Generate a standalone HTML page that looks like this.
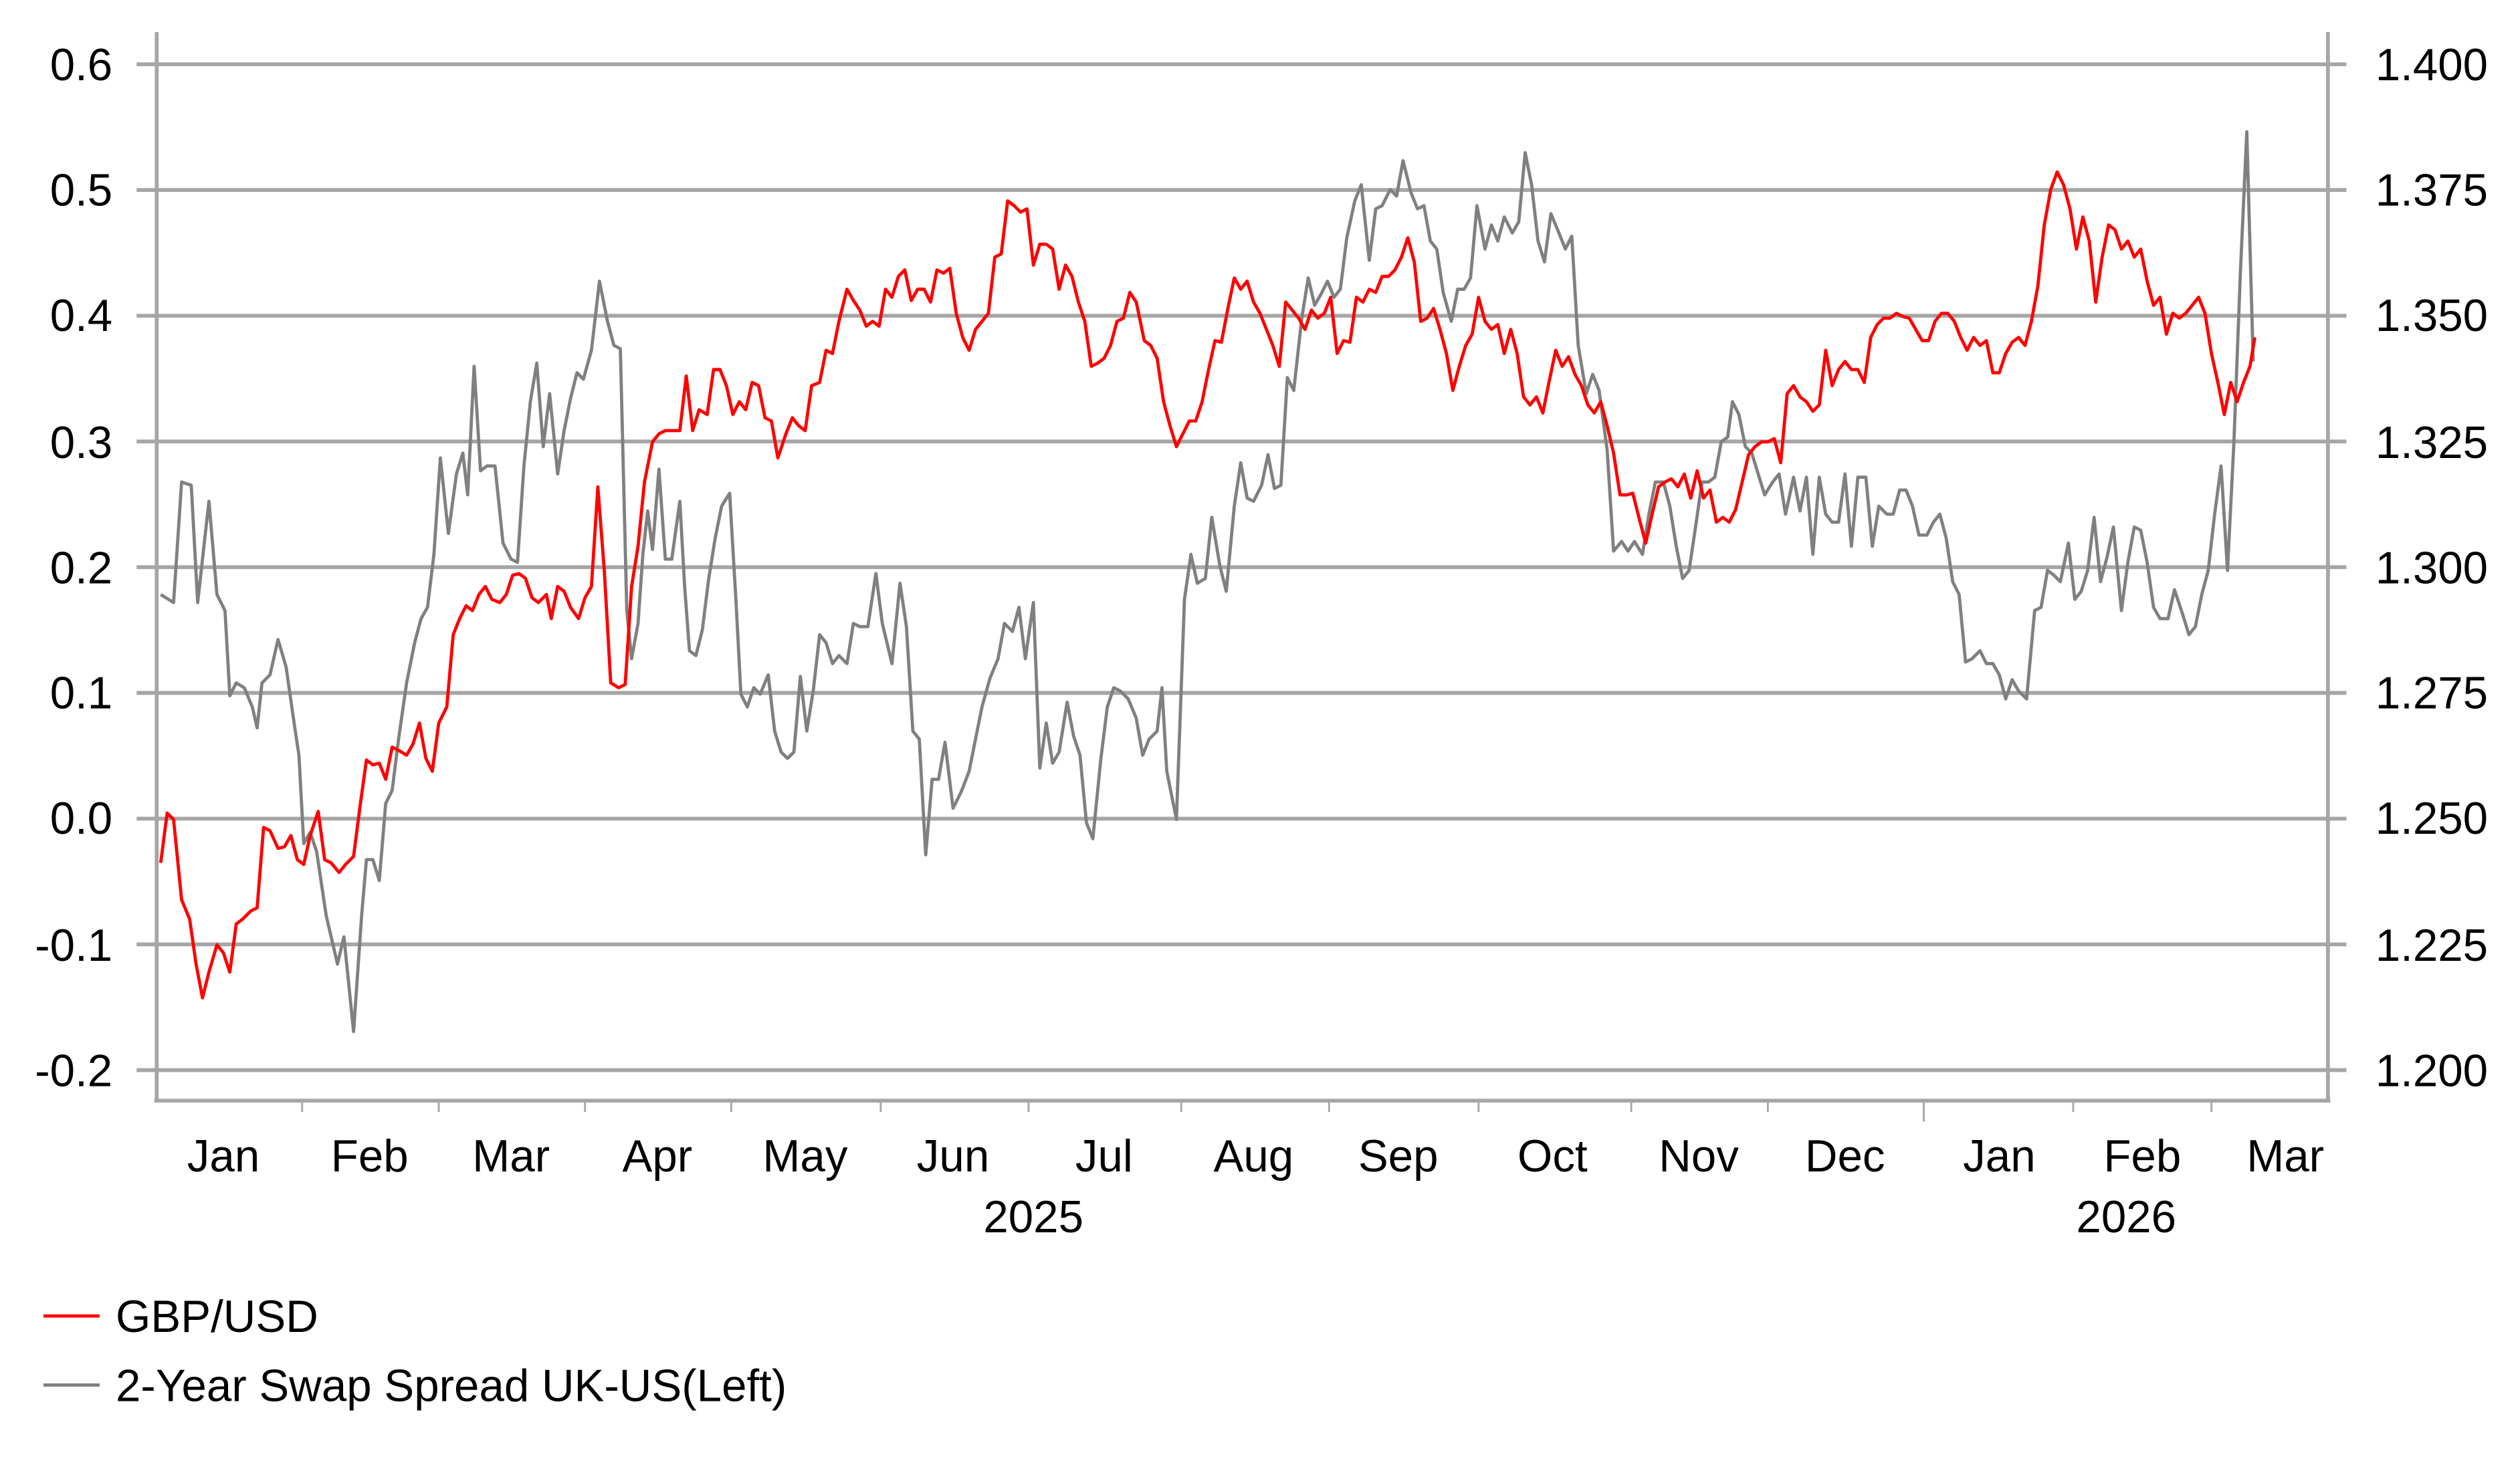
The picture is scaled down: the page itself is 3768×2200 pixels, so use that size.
<!DOCTYPE html>
<html><head><meta charset="utf-8"><style>
html,body{margin:0;padding:0;background:#fff;width:3768px;height:2200px;overflow:hidden}
svg{display:block}
text{font-family:"Liberation Sans",Arial,sans-serif;fill:#000}
</style></head><body>
<svg width="3768" height="2200" viewBox="0 0 1568 915.5" preserveAspectRatio="none" xmlns="http://www.w3.org/2000/svg">
<g stroke="#a6a6a6" stroke-width="2.4">
<line x1="85" y1="40" x2="1460" y2="40"/>
<line x1="85" y1="118.25" x2="1460" y2="118.25"/>
<line x1="85" y1="196.5" x2="1460" y2="196.5"/>
<line x1="85" y1="274.75" x2="1460" y2="274.75"/>
<line x1="85" y1="353" x2="1460" y2="353"/>
<line x1="85" y1="431.25" x2="1460" y2="431.25"/>
<line x1="85" y1="509.5" x2="1460" y2="509.5"/>
<line x1="85" y1="587.75" x2="1460" y2="587.75"/>
<line x1="85" y1="666" x2="1460" y2="666"/>
<line x1="97.5" y1="20" x2="97.5" y2="686"/>
<line x1="1448.5" y1="20" x2="1448.5" y2="686"/>
<line x1="96" y1="685" x2="1450" y2="685"/>
</g>
<g stroke="#a6a6a6" stroke-width="1.2">
<line x1="188" y1="685" x2="188" y2="692"/><line x1="273" y1="685" x2="273" y2="692"/><line x1="364" y1="685" x2="364" y2="692"/><line x1="455" y1="685" x2="455" y2="692"/><line x1="548" y1="685" x2="548" y2="692"/><line x1="640" y1="685" x2="640" y2="692"/><line x1="735" y1="685" x2="735" y2="692"/><line x1="827" y1="685" x2="827" y2="692"/><line x1="920" y1="685" x2="920" y2="692"/><line x1="1015" y1="685" x2="1015" y2="692"/><line x1="1100" y1="685" x2="1100" y2="692"/><line x1="1197" y1="685" x2="1197" y2="698"/><line x1="1290" y1="685" x2="1290" y2="692"/><line x1="1376" y1="685" x2="1376" y2="692"/>
</g>
<g font-size="28" text-anchor="end">
<text x="70" y="50">0.6</text><text x="70" y="128">0.5</text><text x="70" y="206">0.4</text><text x="70" y="285">0.3</text><text x="70" y="363">0.2</text><text x="70" y="441">0.1</text><text x="70" y="519">0.0</text><text x="70" y="598">-0.1</text><text x="70" y="676">-0.2</text>
</g>
<g font-size="28">
<text x="1478" y="50">1.400</text><text x="1478" y="128">1.375</text><text x="1478" y="206">1.350</text><text x="1478" y="285">1.325</text><text x="1478" y="363">1.300</text><text x="1478" y="441">1.275</text><text x="1478" y="519">1.250</text><text x="1478" y="598">1.225</text><text x="1478" y="676">1.200</text>
</g>
<g font-size="28" text-anchor="middle">
<text x="139" y="729">Jan</text><text x="230" y="729">Feb</text><text x="318" y="729">Mar</text><text x="409" y="729">Apr</text><text x="501" y="729">May</text><text x="593" y="729">Jun</text><text x="687" y="729">Jul</text><text x="780" y="729">Aug</text><text x="870" y="729">Sep</text><text x="966" y="729">Oct</text><text x="1057" y="729">Nov</text><text x="1148" y="729">Dec</text><text x="1244" y="729">Jan</text><text x="1333" y="729">Feb</text><text x="1422" y="729">Mar</text>
<text x="643" y="767">2025</text><text x="1323" y="767">2026</text>
</g>
<polyline fill="none" stroke="#808080" stroke-width="2" stroke-linejoin="round" points="100,370 108,375 113,300 119,302 123,375 130,312 135,370 140,380 143,433 147,425 152,428 157,440 160,453 163,425 168,420 173,398 178,415 183,450 186,470 189,525 193,518 197,530 203,570 210,600 214,583 220,642 225,570 228,535 232,535 236,548 240,500 244,492 248,460 253,425 258,400 262,385 266,378 270,345 274,285 279,332 284,295 288,282 291,308 295,228 299,293 303,290 308,290 313,338 318,348 322,350 326,290 330,250 334,226 338,278 342,245 347,295 351,268 355,248 359,232 363,236 368,218 373,175 378,200 382,215 386,217 390,380 393,410 397,388 400,345 403,318 406,342 410,292 414,348 418,348 423,312 426,365 429,405 433,408 437,392 441,360 445,335 449,315 454,307 458,375 461,432 465,440 469,428 473,432 478,420 482,455 486,468 490,472 494,468 498,421 502,455 506,430 510,395 514,400 518,413 522,408 527,413 531,388 535,390 540,390 545,357 549,388 555,413 560,363 564,390 568,455 572,460 576,532 580,485 584,485 588,462 593,503 598,493 603,480 607,460 611,440 616,422 621,410 625,388 630,393 634,378 638,410 643,375 647,478 651,450 655,475 659,468 664,437 668,458 672,470 676,512 680,522 685,472 689,440 693,428 697,430 702,435 707,447 711,470 715,460 720,455 723,428 726,480 732,510 737,373 741,345 745,363 750,360 754,322 759,352 763,368 768,315 772,288 776,310 780,312 785,302 789,283 793,304 797,302 801,235 805,243 810,198 814,173 818,190 822,183 826,175 830,185 834,180 838,148 843,125 847,115 852,162 856,130 860,128 865,118 869,122 873,100 878,120 882,130 886,128 890,150 894,155 898,182 903,200 907,180 911,180 915,173 919,128 924,155 928,140 932,150 936,135 941,145 945,138 949,95 953,115 957,150 961,163 965,133 970,145 974,155 978,147 982,215 987,245 991,233 995,243 1000,280 1004,343 1009,337 1013,343 1017,337 1022,345 1026,320 1030,300 1035,300 1039,315 1043,340 1047,360 1051,355 1055,328 1059,300 1063,300 1067,297 1071,275 1075,272 1078,250 1082,258 1086,278 1090,282 1094,295 1098,308 1103,300 1107,295 1111,320 1116,297 1120,318 1124,297 1128,345 1132,297 1136,320 1140,325 1144,325 1148,295 1152,340 1156,297 1161,297 1165,340 1169,315 1174,320 1178,320 1182,305 1186,305 1190,315 1194,333 1199,333 1203,325 1207,320 1211,335 1215,362 1219,370 1223,412 1227,410 1232,405 1236,413 1240,413 1244,420 1248,435 1252,423 1256,430 1261,435 1266,380 1270,378 1274,355 1278,358 1282,362 1287,338 1291,373 1295,368 1299,355 1303,322 1307,362 1311,347 1315,328 1320,380 1324,350 1328,328 1332,330 1336,350 1340,378 1344,385 1349,385 1353,367 1358,382 1362,395 1366,390 1370,370 1374,355 1378,320 1382,290 1386,355 1390,275 1394,170 1398,82 1402,225"/>
<polyline fill="none" stroke="#ff0000" stroke-width="2" stroke-linejoin="round" points="100,537 104,506 108,510 113,560 118,572 122,600 126,621 130,605 135,588 139,593 143,605 147,575 151,572 156,567 160,565 164,515 168,517 173,528 177,527 181,520 185,535 189,538 193,520 198,505 202,535 206,537 211,543 215,538 220,533 224,502 228,473 232,476 236,475 240,485 244,465 248,467 253,470 257,463 261,450 265,472 269,480 273,450 278,440 282,395 286,385 290,377 294,380 298,370 302,365 306,373 311,375 315,370 319,358 323,357 327,360 331,372 335,375 340,370 343,385 347,365 351,368 355,378 360,385 364,372 368,365 372,303 376,355 380,425 385,428 389,426 393,365 397,340 401,300 406,275 410,270 414,268 418,268 423,268 427,234 431,268 435,255 440,258 444,230 448,230 452,240 456,258 460,250 464,255 468,238 472,240 476,260 480,262 484,285 489,270 493,260 497,265 501,268 505,240 510,238 514,218 518,220 522,200 527,180 531,187 535,193 539,203 543,200 547,203 551,180 555,185 559,172 563,168 567,187 571,180 575,180 579,188 583,168 587,170 591,167 595,195 599,210 603,218 607,205 611,200 615,195 619,160 623,158 627,125 631,128 635,132 639,130 643,165 647,152 651,152 655,155 659,180 663,165 667,172 671,188 675,200 679,228 683,226 687,223 691,215 695,200 699,198 703,182 707,188 712,212 716,215 720,223 724,250 728,265 732,278 736,270 740,262 744,262 748,250 752,230 756,212 760,213 764,192 768,173 772,180 776,175 780,188 784,195 788,205 792,215 796,228 800,188 804,193 808,198 812,205 816,193 820,198 824,195 828,185 832,220 836,212 840,213 844,185 848,188 852,180 856,182 860,172 864,172 868,168 872,160 876,148 880,163 884,200 888,198 892,192 896,205 900,220 904,243 908,228 912,215 916,208 920,185 924,200 928,205 932,202 936,220 940,205 944,220 948,247 952,252 956,247 960,257 964,237 968,218 972,228 976,222 980,233 984,240 988,252 992,257 996,250 1000,265 1004,282 1008,308 1012,308 1016,307 1020,323 1024,338 1028,320 1032,303 1036,300 1040,298 1044,303 1048,295 1052,310 1056,293 1060,310 1064,305 1068,325 1072,322 1076,325 1080,317 1084,300 1088,283 1092,278 1096,275 1100,275 1104,273 1108,288 1112,245 1116,240 1120,247 1124,250 1128,256 1132,252 1136,218 1140,240 1144,230 1148,225 1152,230 1156,230 1160,238 1164,210 1168,202 1172,198 1176,198 1180,195 1184,197 1188,198 1192,205 1196,212 1200,212 1204,200 1208,195 1212,195 1216,200 1220,210 1224,218 1228,210 1232,215 1236,212 1240,232 1244,232 1248,220 1252,213 1256,210 1260,215 1264,200 1268,178 1272,140 1276,118 1280,107 1284,115 1288,130 1292,155 1296,135 1300,150 1304,188 1308,160 1312,140 1316,143 1320,155 1324,150 1328,160 1332,155 1336,175 1340,190 1344,185 1348,208 1352,195 1356,198 1360,195 1364,190 1368,185 1372,195 1376,220 1380,238 1384,258 1388,238 1392,250 1396,238 1400,228 1403,210"/>
<line x1="27" y1="819" x2="62" y2="819" stroke="#ff0000" stroke-width="2"/>
<line x1="27" y1="862" x2="62" y2="862" stroke="#808080" stroke-width="2"/>
<text x="72" y="829" font-size="28">GBP/USD</text>
<text x="72" y="872" font-size="28">2-Year Swap Spread UK-US(Left)</text>
</svg>
</body></html>
